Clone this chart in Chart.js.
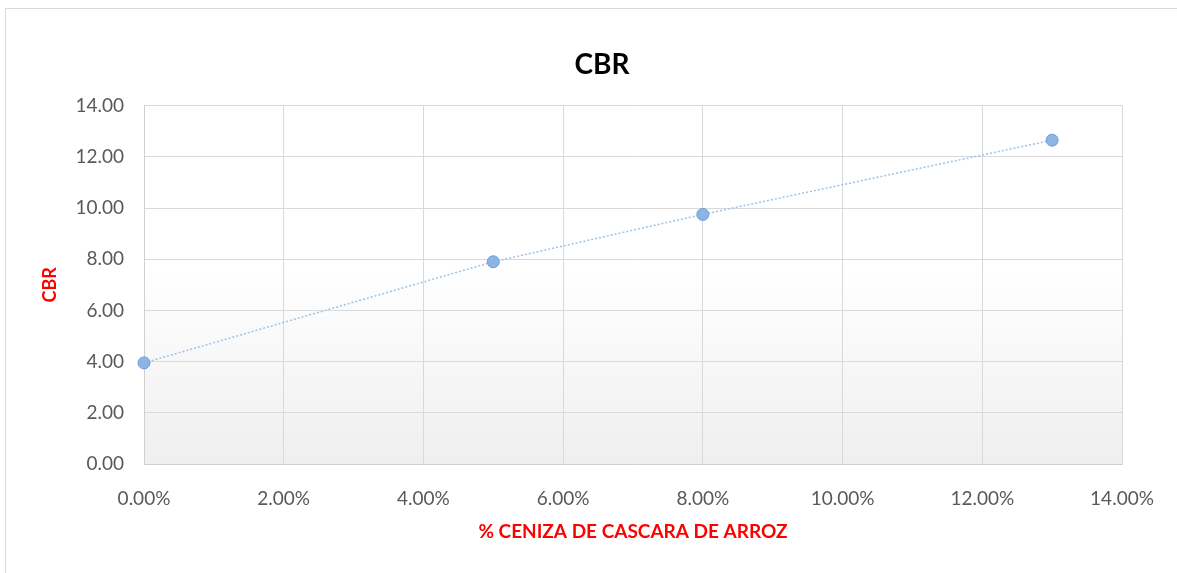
<!DOCTYPE html>
<html>
<head>
<meta charset="utf-8">
<script src="https://cdn.jsdelivr.net/npm/chart.js@4/dist/chart.umd.min.js"></script>
<style>
  html, body { margin: 0; padding: 0; background: #fff; }
  #wrap { position: relative; width: 1177px; height: 573px; }
  #frame { position: absolute; left: 5px; top: 8px; width: 1200px; height: 600px;
           border-left: 1px solid #d9d9d9; border-top: 1px solid #d9d9d9; pointer-events: none; }
  canvas { position: absolute; left: 0; top: 0; }
</style>
</head>
<body>
<div id="wrap">
  <canvas id="graph" width="1177" height="573"></canvas>
  <div id="frame"></div>
</div>
<script>
// % ceniza de cascara de arroz vs CBR
var ceniza = [0, 0.05, 0.08, 0.13];
var cbr = [3.95, 7.9, 9.75, 12.65];
var xTicks = [0, 0.02, 0.04, 0.06, 0.08, 0.10, 0.12, 0.14];
var yTicks = [0, 2, 4, 6, 8, 10, 12, 14];

var points = ceniza.map(function(x, i){ return {x: x, y: cbr[i]}; });

// gradient fill behind the plot area, like the excel one
const plotBg = {
  id: 'plotBg',
  afterLayout(chart){
    // excel centres the title on the whole (wider) chart, move it a bit right
    if(chart.titleBlock){
      chart.titleBlock.left = 82;
      chart.titleBlock.right = 1122;
    }
  },
  beforeDraw(chart){
    const {ctx, chartArea: a} = chart;
    const g = ctx.createLinearGradient(0, a.top, 0, a.bottom);
    g.addColorStop(0, '#ffffff');
    g.addColorStop(0.45, '#ffffff');
    g.addColorStop(1, '#efefef');
    ctx.save();
    ctx.fillStyle = g;
    ctx.fillRect(a.left, a.top, a.right - a.left, a.bottom - a.top);
    ctx.restore();
  }
};

Chart.defaults.font.family = 'Lato, "Open Sans", sans-serif';
Chart.defaults.color = '#595959';

var chart = new Chart(document.getElementById('graph'), {
  type: 'scatter',
  data: {
    datasets: [{
      label: 'CBR',
      data: points,
      showLine: true,
      clip: false,
      borderColor: '#9dc3e6',
      borderWidth: 1.5,
      borderDash: [2, 2],
      pointRadius: 6,
      pointHoverRadius: 6,
      pointBackgroundColor: '#8eb4e3',
      pointBorderColor: '#6a9fd9',
      pointBorderWidth: 1
    }]
  },
  options: {
    responsive: false,
    animation: false,
    layout: { padding: { left: 0, right: 55, top: 0, bottom: 0 } },
    plugins: {
      legend: { display: false },
      tooltip: { enabled: false },
      title: {
        display: true,
        text: 'CBR',
        color: '#000000',
        font: { size: 28, weight: 'bold' },
        padding: { top: 48, bottom: 24 }
      }
    },
    scales: {
      x: {
        type: 'linear',
        min: 0, max: 0.14,
        afterBuildTicks: function(s){ s.ticks = xTicks.map(function(v){ return {value: v}; }); },
        ticks: {
          font: { size: 19 },
          color: '#595959',
          padding: 23,
          maxRotation: 0,
          callback: function(v){ return (v * 100).toFixed(2) + '%'; }
        },
        grid: { color: '#d9d9d9', lineWidth: 1, drawTicks: false },
        border: { color: '#d0d0d0' },
        title: {
          display: true,
          text: '% CENIZA DE CASCARA DE ARROZ',
          color: '#ff0000',
          font: { size: 19, weight: 'bold' },
          padding: { top: 10, bottom: 30 }
        },
        afterFit: function(s){ s.height = 573 - 464; }
      },
      y: {
        min: 0, max: 14,
        afterBuildTicks: function(s){ s.ticks = yTicks.map(function(v){ return {value: v}; }); },
        ticks: {
          font: { size: 19 },
          color: '#595959',
          padding: 20,
          callback: function(v){ return v.toFixed(2); }
        },
        grid: { color: '#d9d9d9', lineWidth: 1, drawTicks: false },
        border: { color: '#d0d0d0' },
        title: {
          display: true,
          text: 'CBR',
          color: '#ff0000',
          font: { size: 18, weight: 'bold' },
          padding: { top: 39, bottom: 0 }
        },
        afterFit: function(s){ s.width = 144; }
      }
    }
  },
  plugins: [plotBg]
});
</script>
</body>
</html>
